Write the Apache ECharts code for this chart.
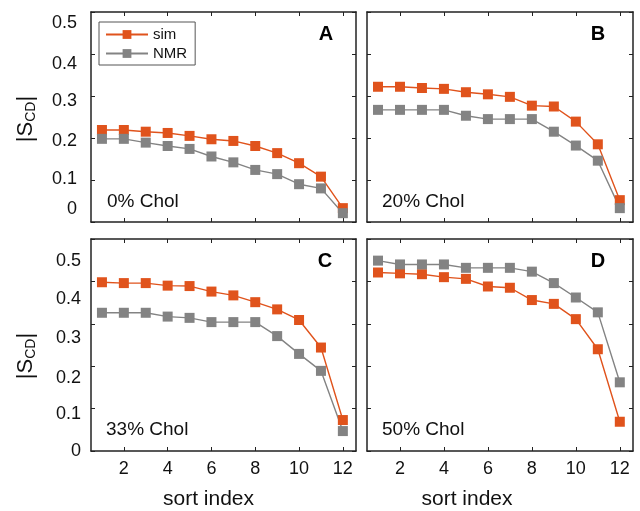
<!DOCTYPE html>
<html>
<head>
<meta charset="utf-8">
<script src="https://cdn.jsdelivr.net/npm/echarts@6/dist/echarts.min.js"></script>
<style>
  html, body { margin: 0; padding: 0; background: #fff; }
  #chart { width: 640px; height: 511px; }
</style>
</head>
<body>
<div id="chart"></div>
<script>
// sort index (x) shared by all four panels
const sortIndex = [1, 2, 3, 4, 5, 6, 7, 8, 9, 10, 11, 12];

// |S_CD| order parameters, simulation vs NMR, per cholesterol content
const sim0  = [0.219, 0.219, 0.215, 0.212, 0.205, 0.197, 0.193, 0.181, 0.164, 0.140, 0.108, 0.033];
const nmr0  = [0.198, 0.198, 0.189, 0.181, 0.174, 0.156, 0.142, 0.124, 0.114, 0.090, 0.080, 0.021];
const sim20 = [0.322, 0.322, 0.319, 0.317, 0.309, 0.304, 0.298, 0.277, 0.275, 0.239, 0.185, 0.052];
const nmr20 = [0.267, 0.267, 0.267, 0.267, 0.253, 0.245, 0.245, 0.245, 0.215, 0.182, 0.146, 0.033];
const sim33 = [0.398, 0.396, 0.396, 0.390, 0.389, 0.376, 0.367, 0.351, 0.334, 0.309, 0.244, 0.073];
const nmr33 = [0.326, 0.326, 0.326, 0.317, 0.314, 0.304, 0.304, 0.304, 0.271, 0.229, 0.189, 0.047];
const sim50 = [0.421, 0.419, 0.417, 0.410, 0.406, 0.388, 0.385, 0.356, 0.347, 0.311, 0.240, 0.069];
const nmr50 = [0.449, 0.440, 0.440, 0.440, 0.432, 0.432, 0.432, 0.423, 0.396, 0.362, 0.327, 0.162];

// axis tick labels
const xTickValues = [2, 4, 6, 8, 10, 12];
const yTickValues = [0, 0.1, 0.2, 0.3, 0.4, 0.5];
const yTickLabels = ['0', '0.1', '0.2', '0.3', '0.4', '0.5'];

const panelLetters = ['A', 'B', 'C', 'D'];
const panelNotes = ['0% Chol', '20% Chol', '33% Chol', '50% Chol'];
const seriesNames = ['sim', 'NMR'];

const panelSeries = [[sim0, nmr0], [sim20, nmr20], [sim33, nmr33], [sim50, nmr50]];

// panel boxes
const boxes = [
  { left: 91,  top: 12,  width: 265, height: 210 },
  { left: 367, top: 12,  width: 266, height: 210 },
  { left: 91,  top: 239, width: 265, height: 212 },
  { left: 367, top: 239, width: 266, height: 212 }
];

const SIM_COLOR = '#E0531C';
const NMR_COLOR = '#838383';
const AXIS_COLOR = '#222';
const FONT = '"Liberation Sans", Arial, Helvetica, sans-serif';

// per-label vertical nudge (px) for the y tick labels, top row and bottom row
const yNudgeTop = [-13, -1, 3, 5, 10, 11];
const yNudgeBottom = [0, 5, 12, 14, 18, 22];

function nudgeRich(nudges) {
  const rich = {};
  nudges.forEach((d, i) => {
    rich['n' + i] = {
      fontSize: 18, fontFamily: FONT, color: '#111',
      padding: d >= 0 ? [2 * d, 0, 0, 0] : [0, 0, -2 * d, 0]
    };
  });
  return rich;
}

const grid = [], xAxis = [], yAxis = [], series = [];

boxes.forEach((b, i) => {
  grid.push({ left: b.left, top: b.top, width: b.width, height: b.height, containLabel: false });
  const bottomRow = i >= 2;
  const leftCol = i % 2 === 0;
  const lineStyle = { color: AXIS_COLOR, width: 1.5 };
  const tick = { show: true, inside: true, length: 4, lineStyle: { color: AXIS_COLOR, width: 1 } };

  // bottom x axis
  xAxis.push({
    type: 'value', gridIndex: i, position: 'bottom', min: 0.5, max: 12.6,
    axisLine: { show: true, onZero: false, lineStyle },
    axisTick: Object.assign({ customValues: xTickValues }, tick),
    axisLabel: {
      show: bottomRow, customValues: xTickValues, margin: 9,
      fontSize: 18, fontFamily: FONT, color: '#111'
    },
    splitLine: { show: false },
    name: bottomRow ? 'sort index' : '',
    nameLocation: 'middle', nameGap: 38,
    nameTextStyle: {
      fontSize: 21, fontFamily: FONT, color: '#111',
      padding: leftCol ? [0, 30, 0, 0] : [0, 66, 0, 0]
    }
  });
  // top x axis (box edge with mirrored ticks)
  xAxis.push({
    type: 'value', gridIndex: i, position: 'top', min: 0.5, max: 12.6,
    axisLine: { show: true, onZero: false, lineStyle },
    axisTick: Object.assign({ customValues: xTickValues }, tick),
    axisLabel: { show: false },
    splitLine: { show: false }
  });
  // left y axis
  const nudges = bottomRow ? yNudgeBottom : yNudgeTop;
  yAxis.push({
    type: 'value', gridIndex: i, position: 'left', min: 0, max: 0.5, interval: 0.1,
    axisLine: { show: true, onZero: false, lineStyle },
    axisTick: tick,
    axisLabel: {
      show: leftCol, margin: bottomRow ? 10 : 14,
      customValues: yTickValues,
      formatter: function (v) {
        const k = yTickValues.findIndex(t => Math.abs(t - v) < 1e-6);
        return '{n' + k + '|' + yTickLabels[k] + '}';
      },
      rich: nudgeRich(nudges)
    },
    splitLine: { show: false },
    name: leftCol ? '|S{sub|CD}|' : '',
    nameLocation: 'middle', nameGap: 53, nameRotate: 90,
    nameTextStyle: {
      fontSize: 22, fontFamily: FONT, color: '#111',
      padding: bottomRow ? [0, 0, 0, -22] : [0, 0, 0, -4],
      rich: {
        sub: { fontSize: 14, fontFamily: FONT, color: '#111', verticalAlign: 'bottom', padding: [10, 0, 0, 0] }
      }
    }
  });
  // right y axis (box edge with mirrored ticks)
  yAxis.push({
    type: 'value', gridIndex: i, position: 'right', min: 0, max: 0.5, interval: 0.1,
    axisLine: { show: true, onZero: false, lineStyle },
    axisTick: tick,
    axisLabel: { show: false },
    splitLine: { show: false }
  });

  const [simVals, nmrVals] = panelSeries[i];
  [simVals, nmrVals].forEach((vals, s) => {
    const color = s === 0 ? SIM_COLOR : NMR_COLOR;
    series.push({
      type: 'line', name: seriesNames[s],
      xAxisIndex: i * 2, yAxisIndex: i * 2,
      data: sortIndex.map((x, k) => [x, vals[k]]),
      symbol: 'rect', symbolSize: 10,
      lineStyle: { color, width: 1.4 },
      itemStyle: { color },
      animation: false
    });
  });
});

// panel letters and composition notes
const graphic = [];
const letterPos = [[326, 34], [598, 34], [325, 261], [598, 261]];
const notePos = [[107, 202], [382, 202], [106, 430], [382, 430]];
panelLetters.forEach((t, i) => {
  graphic.push({
    type: 'text', x: letterPos[i][0], y: letterPos[i][1],
    style: { text: t, font: 'bold 20px ' + FONT, fill: '#000', align: 'center', verticalAlign: 'middle' }
  });
  graphic.push({
    type: 'text', x: notePos[i][0], y: notePos[i][1],
    style: { text: panelNotes[i], font: '19px ' + FONT, fill: '#111', align: 'left', verticalAlign: 'middle' }
  });
});

const chart = echarts.init(document.getElementById('chart'), null, { renderer: 'canvas' });
chart.setOption({
  backgroundColor: '#fff',
  animation: false,
  grid, xAxis, yAxis, series, graphic,
  legend: {
    data: seriesNames,
    orient: 'vertical', left: 99, top: 22,
    padding: [5, 8, 4, 6], itemGap: 4,
    itemWidth: 42, itemHeight: 11,
    backgroundColor: '#fff', borderColor: '#555', borderWidth: 1,
    textStyle: { fontSize: 15, fontFamily: FONT, color: '#111' }
  }
});
</script>
</body>
</html>
